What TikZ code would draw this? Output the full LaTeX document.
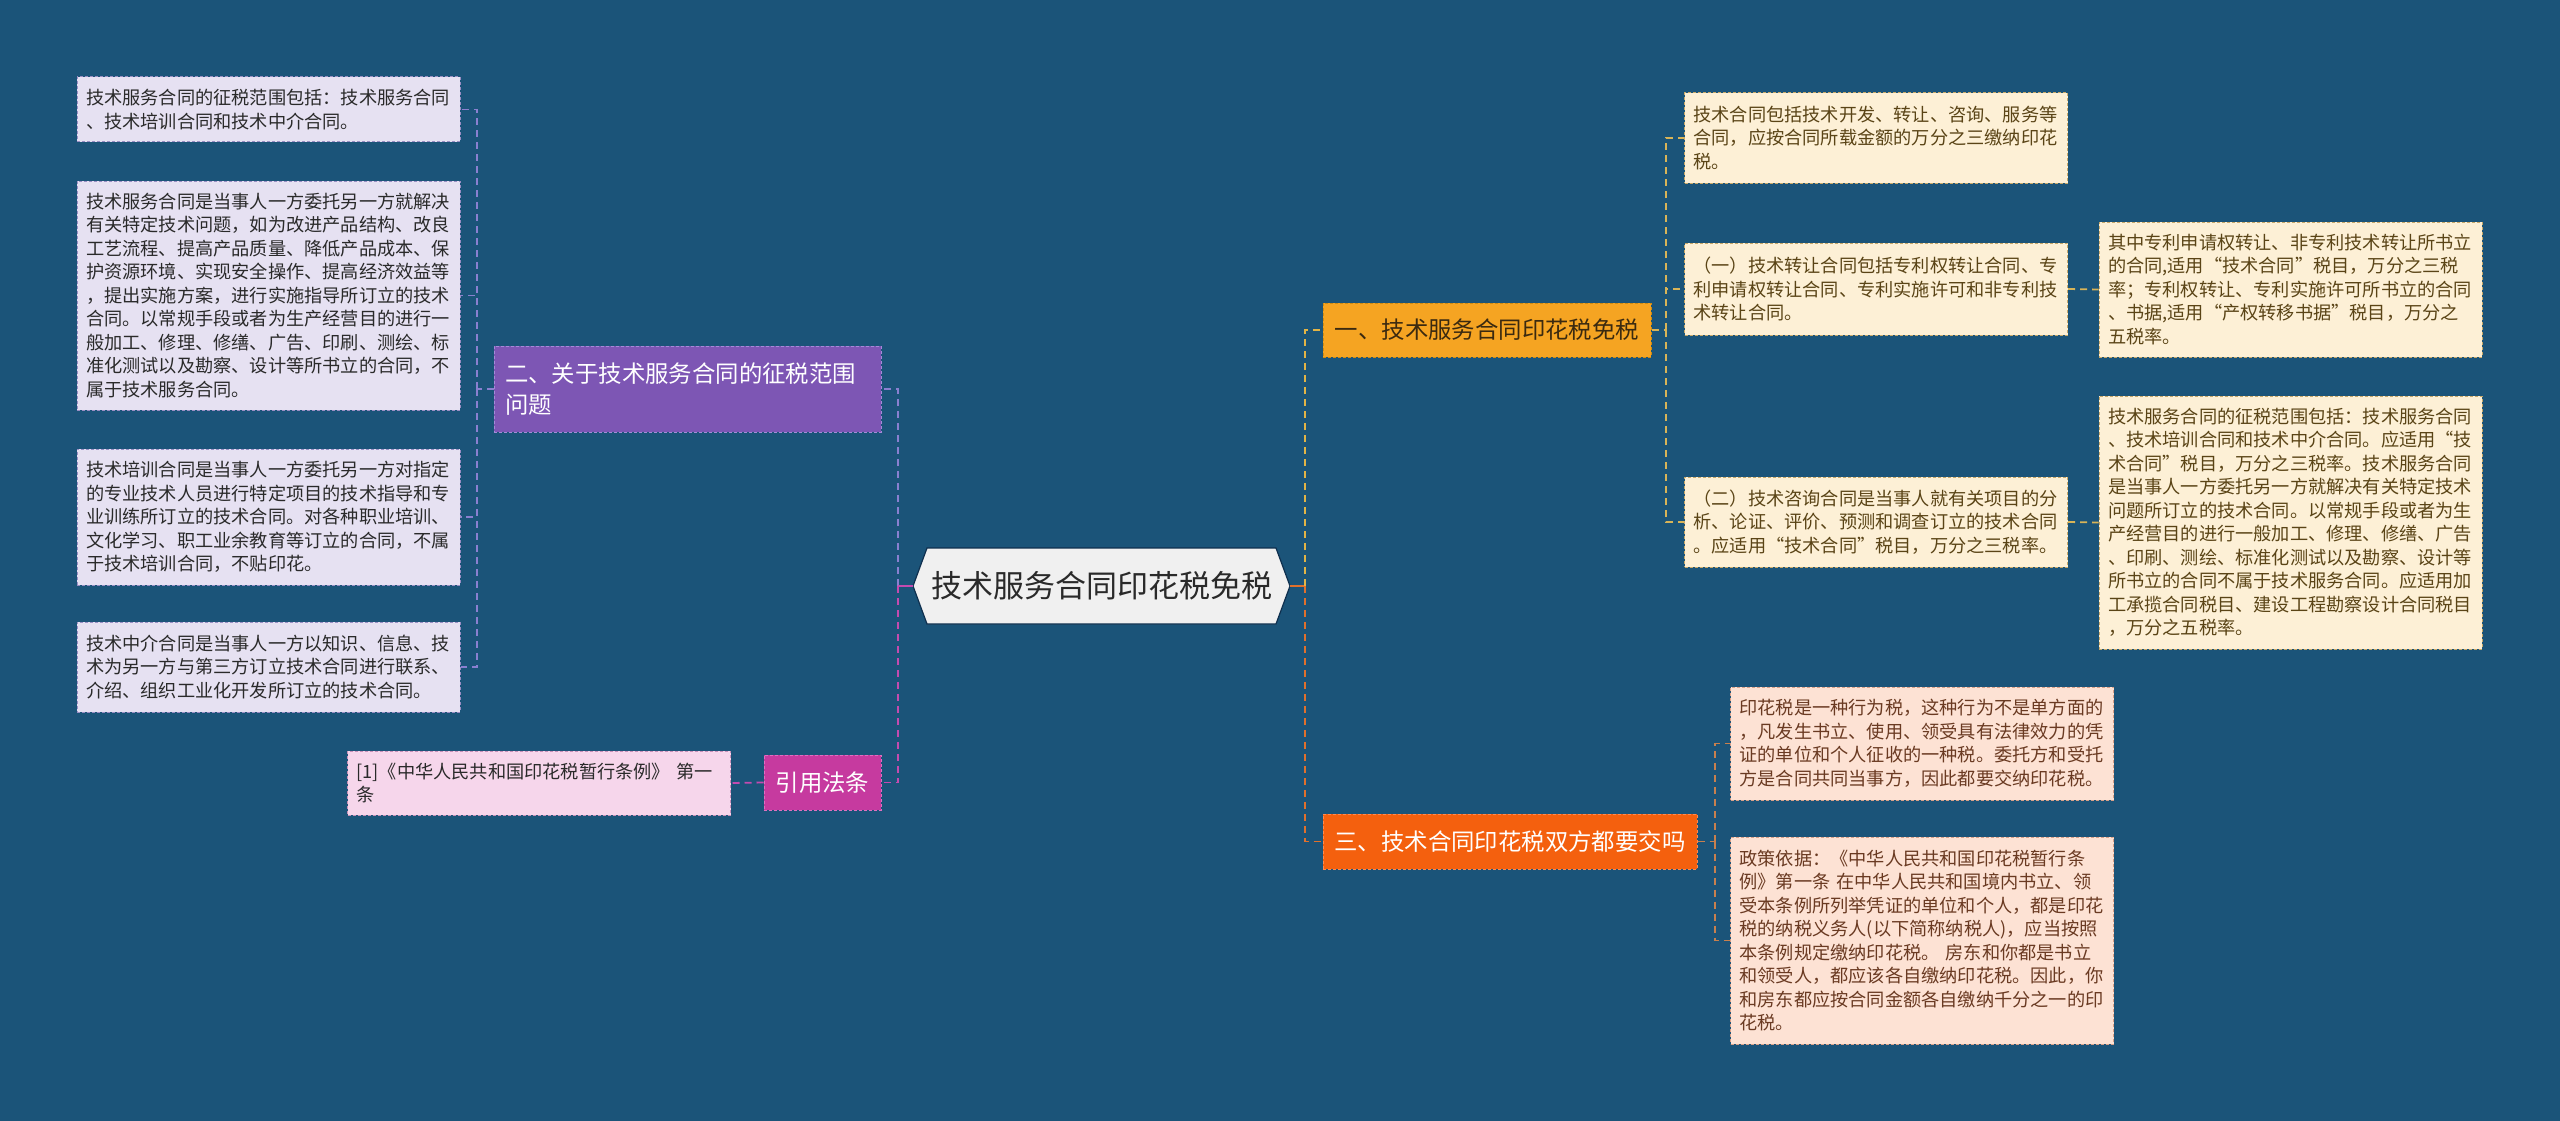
\documentclass[tikz,border=0pt]{standalone}
\usepackage{fontspec}
\setmainfont{Noto Sans CJK SC}
\usetikzlibrary{calc}
\definecolor{bg}{HTML}{1B5479}
\definecolor{lavfill}{HTML}{E6E1F2}
\definecolor{lavborder}{HTML}{9A8EC4}
\definecolor{purplefill}{HTML}{7D56B4}
\definecolor{purpleborder}{HTML}{A58AD8}
\definecolor{magfill}{HTML}{C63A9F}
\definecolor{magborder}{HTML}{E070C0}
\definecolor{pinkfill}{HTML}{F6D6EB}
\definecolor{pinkborder}{HTML}{C890B8}
\definecolor{yfill}{HTML}{F5A422}
\definecolor{yborder}{HTML}{D08A10}
\definecolor{ytext}{HTML}{3B2A10}
\definecolor{creamfill}{HTML}{FDF0D6}
\definecolor{creamborder}{HTML}{C8A868}
\definecolor{creamtext}{HTML}{5A4416}
\definecolor{rfill}{HTML}{F4600E}
\definecolor{rborder}{HTML}{FF8A50}
\definecolor{peachfill}{HTML}{FDE2D4}
\definecolor{peachborder}{HTML}{D8A088}
\definecolor{peachtext}{HTML}{6A3A22}
\definecolor{cfill}{HTML}{F0F0F0}
\definecolor{cborder}{HTML}{0E2F4E}
\definecolor{ctext}{HTML}{2A2A2A}
\definecolor{lavline}{HTML}{8A80D0}
\definecolor{magline}{HTML}{C44BB0}
\definecolor{yline}{HTML}{E2B446}
\definecolor{oline}{HTML}{E0702C}
\definecolor{bline}{HTML}{D8B458}
\definecolor{rline}{HTML}{C8804E}
\newcommand\leaffont{\fontsize{18.2pt}{23.5pt}\selectfont}
\newcommand\branchfont{\fontsize{23.4pt}{31pt}\selectfont}
\tikzset{
  leafbox/.style={inner xsep=9pt, inner ysep=0pt, text width=365pt, align=left,
    font=\leaffont, line width=1pt, dash pattern=on 3pt off 2pt},
  leafL/.style={leafbox, fill=lavfill, draw=lavborder, text=ctext},
  leafC/.style={leafbox, fill=creamfill, draw=creamborder, text=creamtext},
  leafP/.style={leafbox, fill=peachfill, draw=peachborder, text=peachtext},
  leafR/.style={leafbox, fill=pinkfill, draw=pinkborder, text=ctext},
  branchbox/.style={inner sep=0pt, font=\branchfont, line width=1pt,
    dash pattern=on 3pt off 2pt, align=center},
  conn/.style={line width=1.8pt, dash pattern=on 7pt off 5pt},
  stub/.style={line width=2.2pt}
}
\begin{document}
\begin{tikzpicture}[x=1pt,y=-1pt]
\useasboundingbox (0,0) rectangle (2560,1121);
\fill[bg] (0,0) rectangle (2560,1121);

% ---------- centre ----------
\coordinate (Cc) at (1101.5,586);
\filldraw[fill=cfill, draw=cborder, line width=1.2pt]
  ($(Cc)+(-188.5,0)$) -- ($(Cc)+(-174.5,-38)$) -- ($(Cc)+(174.5,-38)$)
  -- ($(Cc)+(188.5,0)$) -- ($(Cc)+(174.5,38)$) -- ($(Cc)+(-174.5,38)$) -- cycle;
\node[inner sep=0pt, minimum width=377pt, minimum height=76pt,
  font=\fontsize{31pt}{36pt}\selectfont, text=ctext] (C) at (Cc) {技术服务合同印花税免税};

% ---------- left side ----------
\node[leafL, minimum height=65pt] (L1) at (268.5,109.5)
 {技术服务合同的征税范围包括：技术服务合同\\、技术培训合同和技术中介合同。};
\node[leafL, minimum height=229pt] (L2) at (268.5,295.5)
 {技术服务合同是当事人一方委托另一方就解决\\有关特定技术问题，如为改进产品结构、改良\\工艺流程、提高产品质量、降低产品成本、保\\护资源环境、实现安全操作、提高经济效益等\\，提出实施方案，进行实施指导所订立的技术\\合同。以常规手段或者为生产经营目的进行一\\般加工、修理、修缮、广告、印刷、测绘、标\\准化测试以及勘察、设计等所书立的合同，不\\属于技术服务合同。};
\node[leafL, minimum height=136pt] (L3) at (268.5,517)
 {技术培训合同是当事人一方委托另一方对指定\\的专业技术人员进行特定项目的技术指导和专\\业训练所订立的技术合同。对各种职业培训、\\文化学习、职工业余教育等订立的合同，不属\\于技术培训合同，不贴印花。};
\node[leafL, minimum height=90pt] (L4) at (268.5,667)
 {技术中介合同是当事人一方以知识、信息、技\\术为另一方与第三方订立技术合同进行联系、\\介绍、组织工业化开发所订立的技术合同。};

\node[branchbox, fill=purplefill, draw=purpleborder, text=white,
  minimum width=387pt, minimum height=86pt, text width=365pt, align=left,
  inner xsep=11pt] (P) at (687.5,389)
 {二、关于技术服务合同的征税范围\\问题};
\node[branchbox, fill=magfill, draw=magborder, text=white,
  minimum width=117pt, minimum height=55pt] (M) at (822.5,782.5) {引用法条};
\node[leafR, minimum height=64pt] (R) at (539,783)
 {[1]《中华人民共和国印花税暂行条例》 第一\\条};

\coordinate (jL) at (477,389);
\coordinate (tL) at (898,586);
\draw[conn, lavline] (P.west) -- (jL);
\draw[conn, lavline] (jL) |- (L1.east);
\draw[conn, lavline] (jL) |- (L2.east);
\draw[conn, lavline] (jL) |- (L3.east);
\draw[conn, lavline] (jL) |- (L4.east);
\draw[conn, lavline] (tL) |- (P.east);
\draw[conn, magline] (tL) |- (M.east);
\draw[conn, magline] (M.west) -- (R.east);
\draw[stub, magline] ($(Cc)+(-188.5,0)$) -- (tL);

% ---------- right side ----------
\node[branchbox, fill=yfill, draw=yborder, text=ytext,
  minimum width=328pt, minimum height=54pt] (B1) at (1487,330) {一、技术服务合同印花税免税};
\node[branchbox, fill=rfill, draw=rborder, text=white,
  minimum width=374pt, minimum height=55pt] (B3) at (1510,841.5) {三、技术合同印花税双方都要交吗};

\node[leafC, minimum height=90pt] (B1a) at (1876,138)
 {技术合同包括技术开发、转让、咨询、服务等\\合同，应按合同所载金额的万分之三缴纳印花\\税。};
\node[leafC, minimum height=92pt] (B1b) at (1876,289)
 {（一）技术转让合同包括专利权转让合同、专\\利申请权转让合同、专利实施许可和非专利技\\术转让合同。};
\node[leafC, minimum height=90pt] (B1c) at (1876,522)
 {（二）技术咨询合同是当事人就有关项目的分\\析、论证、评价、预测和调查订立的技术合同\\。应适用“技术合同”税目，万分之三税率。};
\node[leafC, minimum height=135pt] (B1b1) at (2290.5,289.5)
 {其中专利申请权转让、非专利技术转让所书立\\的合同,适用“技术合同”税目，万分之三税\\率；专利权转让、专利实施许可所书立的合同\\、书据,适用“产权转移书据”税目，万分之\\五税率。};
\node[leafC, minimum height=253pt] (B1c1) at (2290.5,522.5)
 {技术服务合同的征税范围包括：技术服务合同\\、技术培训合同和技术中介合同。应适用“技\\术合同”税目，万分之三税率。技术服务合同\\是当事人一方委托另一方就解决有关特定技术\\问题所订立的技术合同。以常规手段或者为生\\产经营目的进行一般加工、修理、修缮、广告\\、印刷、测绘、标准化测试以及勘察、设计等\\所书立的合同不属于技术服务合同。应适用加\\工承揽合同税目、建设工程勘察设计合同税目\\，万分之五税率。};

\node[leafP, minimum height=113pt] (B3a) at (1922,743.5)
 {印花税是一种行为税，这种行为不是单方面的\\，凡发生书立、使用、领受具有法律效力的凭\\证的单位和个人征收的一种税。委托方和受托\\方是合同共同当事方，因此都要交纳印花税。};
\node[leafP, minimum height=207pt] (B3b) at (1922,940.5)
 {政策依据：《中华人民共和国印花税暂行条\\例》第一条 在中华人民共和国境内书立、领\\受本条例所列举凭证的单位和个人，都是印花\\税的纳税义务人(以下简称纳税人)，应当按照\\本条例规定缴纳印花税。 房东和你都是书立\\和领受人，都应该各自缴纳印花税。因此，你\\和房东都应按合同金额各自缴纳千分之一的印\\花税。};

\coordinate (tR) at (1305,586);
\coordinate (j1) at (1666,330);
\coordinate (j3) at (1715,841.5);
\draw[stub, oline] ($(Cc)+(188.5,0)$) -- (tR);
\draw[conn, yline] (tR) |- (B1.west);
\draw[conn, oline] (tR) |- (B3.west);
\draw[conn, bline] (B1.east) -- (j1);
\draw[conn, bline] (j1) |- (B1a.west);
\draw[conn, bline] (j1) |- (B1b.west);
\draw[conn, bline] (j1) |- (B1c.west);
\draw[conn, bline] (B1b.east) -- (B1b1.west);
\draw[conn, bline] (B1c.east) -- (B1c1.west);
\draw[conn, rline] (B3.east) -- (j3);
\draw[conn, rline] (j3) |- (B3a.west);
\draw[conn, rline] (j3) |- (B3b.west);
\end{tikzpicture}
\end{document}
